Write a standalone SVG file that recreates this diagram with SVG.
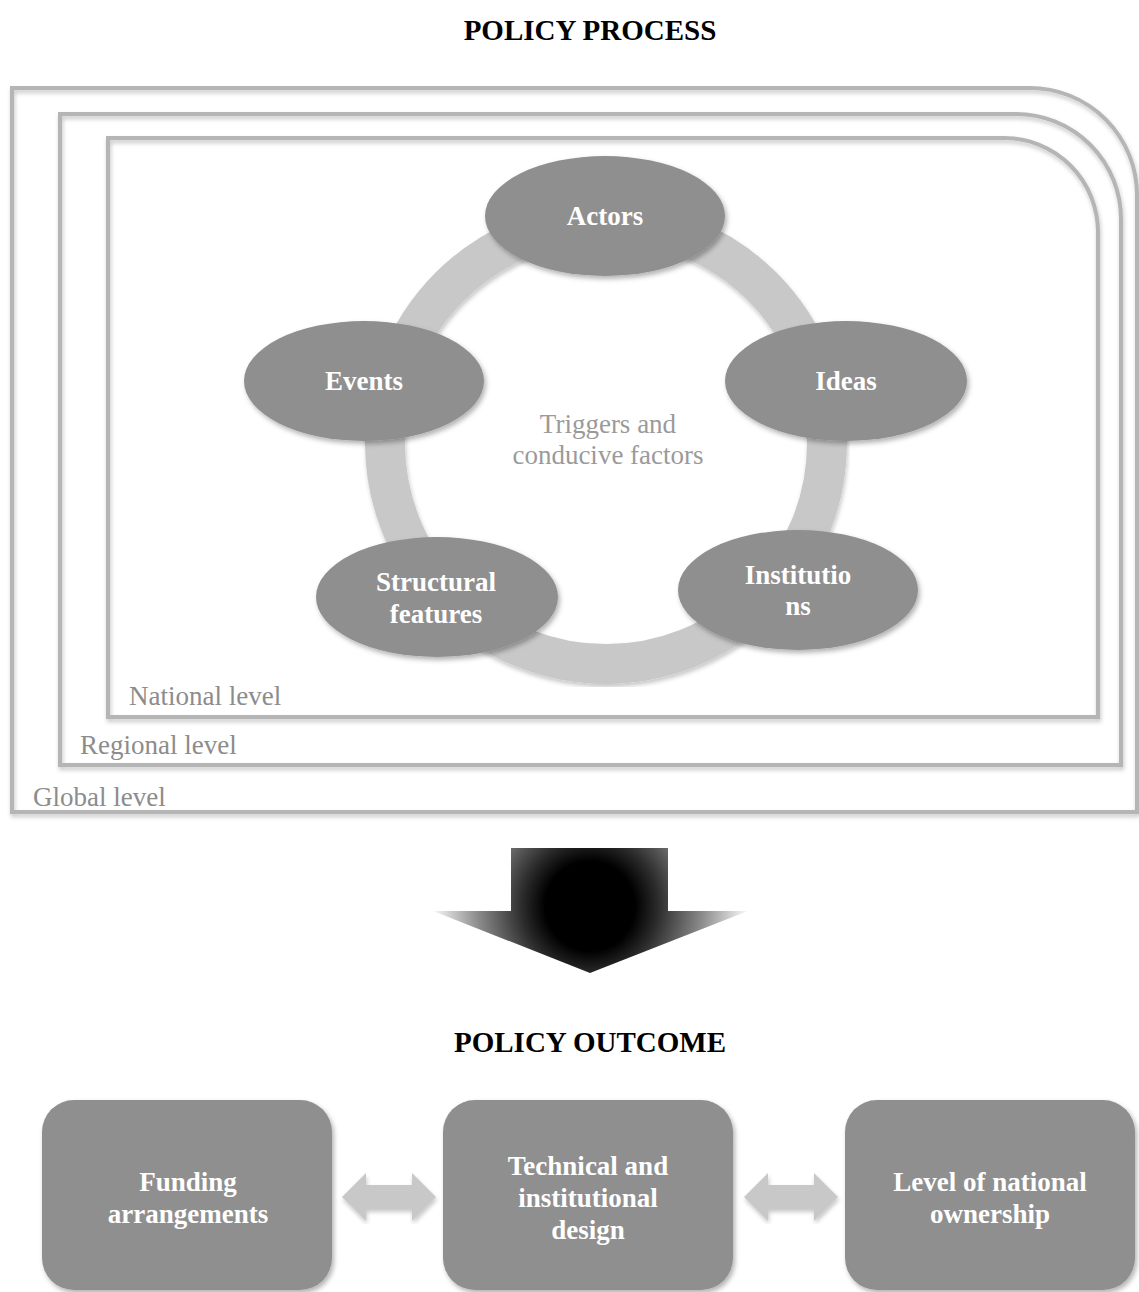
<svg xmlns="http://www.w3.org/2000/svg" width="1139" height="1292" viewBox="0 0 1139 1292">
<defs>
<filter id="sh" x="-10%" y="-10%" width="120%" height="130%">
<feDropShadow dx="2" dy="3" stdDeviation="2.5" flood-color="#000" flood-opacity="0.3"/>
</filter>
<filter id="sh2" x="-5%" y="-5%" width="110%" height="110%">
<feDropShadow dx="1" dy="3" stdDeviation="2" flood-color="#000" flood-opacity="0.22"/>
</filter>
<radialGradient id="ag" gradientUnits="userSpaceOnUse" cx="590" cy="906" r="160">
<stop offset="0" stop-color="#000"/>
<stop offset="0.28" stop-color="#000"/>
<stop offset="0.42" stop-color="#2a2a2a"/>
<stop offset="0.7" stop-color="#8a8a8a"/>
<stop offset="1" stop-color="#ffffff"/>
</radialGradient>
</defs>
<style>
.frame{fill:none;stroke:#b5b5b5;stroke-width:4;filter:url(#sh2)}
.lvl{font-family:"Liberation Serif","DejaVu Serif",serif;font-size:27px;fill:#8c8c8c}
.title{font-family:"Liberation Serif","DejaVu Serif",serif;font-size:29px;font-weight:bold;fill:#000;text-anchor:middle}
.node{fill:#8f8f8f;filter:url(#sh)}
.nt{font-family:"Liberation Serif","DejaVu Serif",serif;font-size:27px;font-weight:bold;fill:#fff;text-anchor:middle}
.ctr{font-family:"Liberation Serif","DejaVu Serif",serif;font-size:27px;fill:#9a9a9a;text-anchor:middle}
.dbl{fill:#c8c8c8;filter:url(#sh2)}
</style>
<rect width="1139" height="1292" fill="#fff"/>
<text class="title" x="590" y="40">POLICY PROCESS</text>

<g id="global-level">
<path class="frame" d="M12,812 L12,88 L1030,88 A107,107 0 0 1 1137,195 L1137,812 Z"/>
<text class="lvl" x="33" y="806">Global level</text>
</g>
<g id="regional-level">
<path class="frame" d="M60,765 L60,114 L1016,114 A105,105 0 0 1 1121,219 L1121,765 Z"/>
<text class="lvl" x="80" y="754">Regional level</text>
</g>
<g id="national-level">
<path class="frame" d="M108,717 L108,138 L1004,138 A94,94 0 0 1 1098,232 L1098,717 Z"/>
<text class="lvl" x="129" y="705">National level</text>
</g>

<g id="connectors">
<circle cx="606" cy="443" r="221" fill="none" stroke="#c8c8c8" stroke-width="40" filter="url(#sh2)"/>
<polygon class="dbl" points="342,1197 366,1173 366,1185 412,1185 412,1173 436,1197 412,1221 412,1209 366,1209 366,1221"/>
<polygon class="dbl" points="744,1197 768,1173 768,1185 814,1185 814,1173 838,1197 814,1221 814,1209 768,1209 768,1221"/>
</g>

<text class="ctr" x="608" y="433">Triggers and</text>
<text class="ctr" x="608" y="464">conducive factors</text>

<g id="actors">
<ellipse class="node" cx="605" cy="216" rx="120" ry="60"/>
<text class="nt" x="605" y="225">Actors</text>
</g>
<g id="ideas">
<ellipse class="node" cx="846" cy="381" rx="121" ry="60"/>
<text class="nt" x="846" y="390">Ideas</text>
</g>
<g id="institutions">
<ellipse class="node" cx="798" cy="590" rx="120" ry="60"/>
<text class="nt" x="798" y="584">Institutio</text>
<text class="nt" x="798" y="615">ns</text>
</g>
<g id="structural-features">
<ellipse class="node" cx="437" cy="597" rx="121" ry="60"/>
<text class="nt" x="436" y="591">Structural</text>
<text class="nt" x="436" y="623">features</text>
</g>
<g id="events">
<ellipse class="node" cx="364" cy="381" rx="120" ry="60"/>
<text class="nt" x="364" y="390">Events</text>
</g>

<g id="big-arrow">
<polygon points="511,848 668,848 668,911 748,911 590,973 433,911 511,911" fill="url(#ag)"/>
</g>

<text class="title" x="590" y="1052">POLICY OUTCOME</text>

<g id="funding">
<rect class="node" x="42" y="1100" width="290" height="190" rx="32"/>
<text class="nt" x="188" y="1191">Funding</text>
<text class="nt" x="188" y="1223">arrangements</text>
</g>
<g id="technical">
<rect class="node" x="443" y="1100" width="290" height="190" rx="32"/>
<text class="nt" x="588" y="1175">Technical and</text>
<text class="nt" x="588" y="1207">institutional</text>
<text class="nt" x="588" y="1239">design</text>
</g>
<g id="ownership">
<rect class="node" x="845" y="1100" width="290" height="190" rx="32"/>
<text class="nt" x="990" y="1191">Level of national</text>
<text class="nt" x="990" y="1223">ownership</text>
</g>
</svg>
